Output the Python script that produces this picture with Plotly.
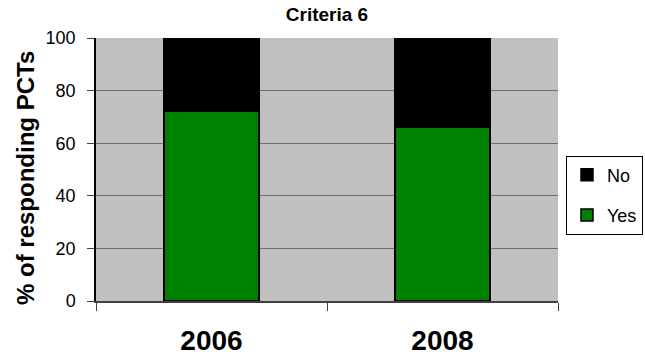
import plotly.graph_objects as go

# Survey results for Criteria 6
years = ["2006", "2008"]
yes_pct = [72, 66]
no_pct = [28, 34]

FONT = "Arial, Liberation Sans, sans-serif"

W, H = 645, 356
ML, MR, MT, MB = 96, 87, 38, 55
PW, PH = W - ML - MR, H - MT - MB

fig = go.Figure()
fig.add_trace(go.Bar(
    x=years, y=yes_pct, name="Yes", legendgroup="yes", legendrank=2,
    marker=dict(color="#008000", line=dict(color="black", width=1.5)),
))
fig.add_trace(go.Bar(
    x=years, y=no_pct, name="No", legendgroup="no", legendrank=1,
    marker=dict(color="#000000", line=dict(color="black", width=1.5)),
))

fig.update_layout(
    width=W, height=H,
    margin=dict(l=ML, r=MR, t=MT, b=MB, autoexpand=False),
    barmode="stack",
    bargap=0.59,
    paper_bgcolor="white",
    plot_bgcolor="#C0C0C0",
    font=dict(family=FONT, color="black"),
    title=dict(
        text="<b>Criteria 6</b>",
        font=dict(size=19, family=FONT, color="black"),
        x=(ML + PW / 2) / W, xanchor="center",
        y=1 - 14 / H, yanchor="middle",
    ),
    showlegend=True,
    legend=dict(
        traceorder="grouped",
        xref="container", yref="container",
        x=566 / W, xanchor="left",
        y=(H - 195) / H, yanchor="middle",
        bordercolor="black", borderwidth=1,
        bgcolor="white",
        font=dict(size=18, family=FONT),
        tracegroupgap=14,
        itemwidth=30,
    ),
    xaxis=dict(
        type="category",
        tickson="boundaries",
        ticks="outside", ticklen=8, tickcolor="#404040",
        showline=True, linecolor="#404040", linewidth=1.5,
        showgrid=False,
        automargin=False,
        tickfont=dict(size=28, family=FONT),
        ticklabelstandoff=14,
        tickprefix="<b>", ticksuffix="</b>",
    ),
    yaxis=dict(
        range=[0, 100], dtick=20,
        ticks="outside", ticklen=7, tickcolor="#404040",
        showline=True, linecolor="black", linewidth=1.5,
        showgrid=True, gridcolor="#6E6E6E", gridwidth=1,
        zeroline=False,
        automargin=False,
        tickfont=dict(size=18, family=FONT),
        ticklabelstandoff=8,
    ),
    annotations=[dict(
        text="<b>% of responding PCTs</b>",
        xref="paper", yref="paper",
        x=(25 - ML) / PW, y=(H - MB - 178) / PH,
        xanchor="center", yanchor="middle",
        textangle=-90, showarrow=False,
        font=dict(size=24, family=FONT, color="black"),
    )],
)

fig.write_html("out.html")
